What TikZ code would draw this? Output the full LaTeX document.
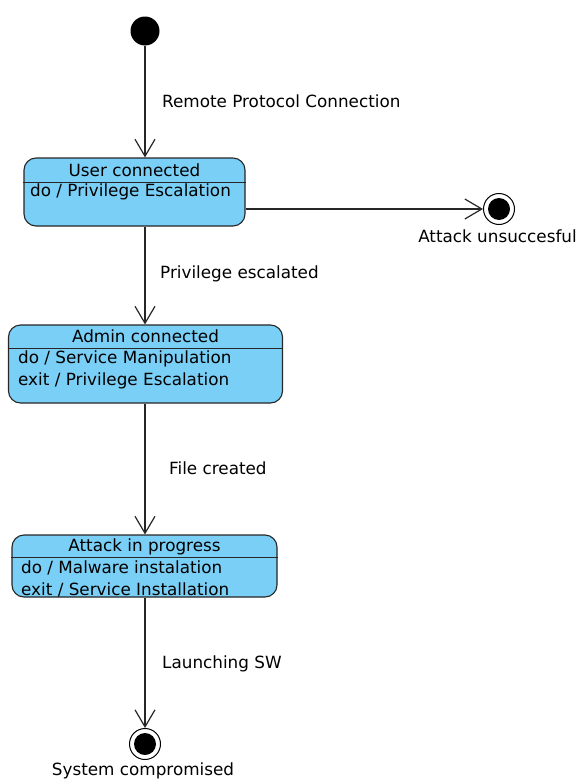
\documentclass[tikz,border=0pt]{standalone}
\usepackage{fontspec}
\setmainfont{DejaVu Sans}
\usetikzlibrary{arrows.meta}
\definecolor{stateblue}{RGB}{122,207,246}
\begin{document}
\begin{tikzpicture}[x=1pt,y=-1pt,
  every node/.style={font=\fontsize{16.8}{20}\selectfont},
  statebox/.style={draw=black!85, line width=1.1pt, fill=stateblue, rounded corners=12pt, inner sep=0pt},
  arr/.style={line width=1.2pt, draw=black!85, -{Straight Barb[length=17pt,width=20pt,line width=1.2pt]}},
  initstate/.style={circle, fill=black, minimum size=29pt, inner sep=0pt},
  finalstate/.style={circle, draw=black, line width=1pt, fill=white, minimum size=31pt, inner sep=0pt,
    path picture={\fill[black] (path picture bounding box.center) circle (11pt);}},
  lbl/.style={anchor=west, inner sep=0pt},
  sep/.style={line width=1pt, draw=black!85}
]
\useasboundingbox (0,0) rectangle (577,779);

% states
\node[initstate] (init) at (145,31) {};
\node[statebox, minimum width=221pt, minimum height=68pt] (user) at (134.5,192) {};
\node[statebox, minimum width=274pt, minimum height=78pt] (admin) at (145.5,364) {};
\node[statebox, minimum width=265pt, minimum height=62pt] (attack) at (144.5,566) {};
\node[finalstate] (fin1) at (499,209) {};
\node[finalstate] (fin2) at (145,744) {};

% compartments
\draw[sep] (user.west |- 0,182) -- (user.east |- 0,182);
\draw[sep] (admin.west |- 0,348) -- (admin.east |- 0,348);
\draw[sep] (attack.west |- 0,557) -- (attack.east |- 0,557);

\node[inner sep=0pt] (usert) at (134.5,170.5) {User connected};
\node[lbl] (userd) at (30,192) {do / Privilege Escalation};
\node[inner sep=0pt] (admint) at (145.5,336.5) {Admin connected};
\node[lbl] (admind) at (18,359) {do / Service Manipulation};
\node[lbl] (admine) at (18,381) {exit / Privilege Escalation};
\node[inner sep=0pt] (attackt) at (144.5,546.5) {Attack in progress};
\node[lbl] (attackd) at (21,568) {do / Malware instalation};
\node[lbl] (attacke) at (21,590) {exit / Service Installation};

\node[inner sep=0pt] (fin1l) at (497.5,236.5) {Attack unsuccesful};
\node[inner sep=0pt] (fin2l) at (143,770.5) {System compromised};

% transitions
\draw[arr] (init) -- (init |- user.north);
\draw[arr] (user.south -| init) -- (init |- admin.north);
\draw[arr] (admin.south -| init) -- (init |- attack.north);
\draw[arr] (attack.south -| init) -- (fin2);
\draw[arr] (fin1 -| user.east) -- (fin1);

\node[lbl] (l1) at (162,101) {Remote Protocol Connection};
\node[lbl] (l2) at (160,274) {Privilege escalated};
\node[lbl] (l3) at (169,468) {File created};
\node[lbl] (l4) at (162,664) {Launching SW};
\end{tikzpicture}
\end{document}
